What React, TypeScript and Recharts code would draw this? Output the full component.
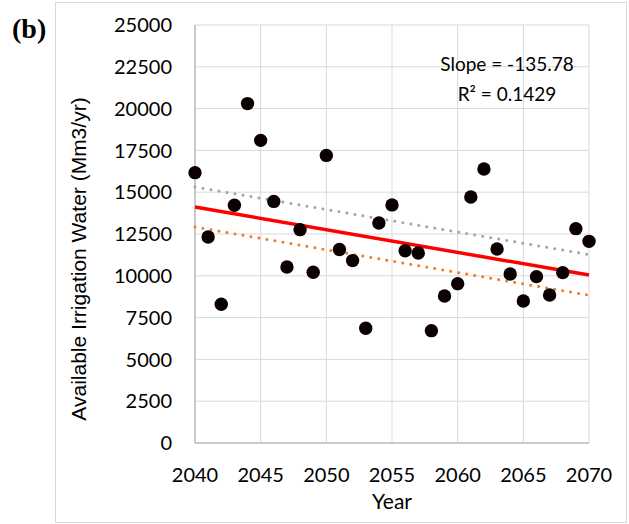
import { ScatterChart, Scatter, XAxis, YAxis, CartesianGrid } from 'recharts';

// Available irrigation water per year (Mm3/yr)
const years = [
  2040, 2041, 2042, 2043, 2044, 2045, 2046, 2047, 2048, 2049,
  2050, 2051, 2052, 2053, 2054, 2055, 2056, 2057, 2058, 2059,
  2060, 2061, 2062, 2063, 2064, 2065, 2066, 2067, 2068, 2069, 2070,
];
const water = [
  16170, 12320, 8300, 14220, 20300, 18100, 14450, 10530, 12760, 10210,
  17200, 11570, 10910, 6860, 13160, 14240, 11500, 11360, 6720, 8790,
  9530, 14710, 16390, 11600, 10110, 8490, 9950, 8850, 10190, 12820, 12060,
];

// trend lines (linear fit and two dotted bounds), end points only
const trendYears = [2040, 2070];
const fitLine = [14115, 10042];
const upperLine = [15310, 11270];
const lowerLine = [12920, 8835];

const yTicks = [0, 2500, 5000, 7500, 10000, 12500, 15000, 17500, 20000, 22500, 25000];
const xTicks = [2040, 2045, 2050, 2055, 2060, 2065, 2070];

const points = years.map((y, i) => ({ x: y, y: water[i] }));
const toLine = (vals: number[]) => trendYears.map((x, i) => ({ x, y: vals[i] }));

const tickFont = { fontFamily: 'Lato', fontSize: 20, fill: '#000' };
const noShape = () => <g />;

export default function App() {
  return (
    <div style={{ position: 'absolute', left: 0, top: 0, width: 629, height: 524, background: '#fff' }}>
      <div
        style={{
          position: 'absolute', left: 55, top: 2, width: 570, height: 519,
          border: '1px solid #d9d9d9',
        }}
      />
      <ScatterChart width={629} height={524} margin={{ top: 25, right: 40, left: 0, bottom: 0 }}>
        <CartesianGrid stroke="#d9d9d9" strokeWidth={1} />
        <XAxis
          type="number"
          dataKey="x"
          domain={[2040, 2070]}
          ticks={xTicks}
          height={81}
          tickSize={0}
          tickMargin={25}
          tickLine={false}
          axisLine={{ stroke: '#bfbfbf', strokeWidth: 1.5 }}
          tick={tickFont}
          interval={0}
        />
        <YAxis
          type="number"
          dataKey="y"
          domain={[0, 25000]}
          ticks={yTicks}
          width={195}
          tickSize={0}
          tickMargin={23}
          tickLine={false}
          axisLine={{ stroke: '#bfbfbf', strokeWidth: 1.5 }}
          tick={tickFont}
          interval={0}
        />
        <Scatter
          data={toLine(upperLine)}
          line={{ stroke: '#a5a5a5', strokeWidth: 3, strokeDasharray: '0.01 8.1', strokeLinecap: 'round' }}
          shape={noShape}
          isAnimationActive={false}
        />
        <Scatter
          data={toLine(lowerLine)}
          line={{ stroke: '#ed7d31', strokeWidth: 3, strokeDasharray: '0.01 8.1', strokeLinecap: 'round' }}
          shape={noShape}
          isAnimationActive={false}
        />
        <Scatter
          data={toLine(fitLine)}
          line={{ stroke: '#ff0000', strokeWidth: 3.5 }}
          shape={noShape}
          isAnimationActive={false}
        />
        <Scatter
          data={points}
          fill="#0a0000"
          shape={(p: any) => <circle cx={p.cx} cy={p.cy} r={6.7} fill="#0a0000" />}
          isAnimationActive={false}
        />
      </ScatterChart>

      <div
        style={{
          position: 'absolute', left: 79, top: 259, transform: 'translate(-50%, -50%) rotate(-90deg)',
          fontFamily: '"Liberation Sans", Arial, sans-serif', fontSize: 21, whiteSpace: 'nowrap', color: '#000',
        }}
      >
        Available Irrigation Water (Mm3/yr)
      </div>
      <div
        style={{
          position: 'absolute', left: 392, top: 500, transform: 'translate(-50%, -50%)',
          fontFamily: 'Lato', fontSize: 21, color: '#000',
        }}
      >
        Year
      </div>
      <div
        style={{
          position: 'absolute', left: 507, top: 79, transform: 'translate(-50%, -50%)',
          fontFamily: 'Lato', fontSize: 19, lineHeight: '30px', textAlign: 'center', whiteSpace: 'nowrap', color: '#000',
        }}
      >
        <div>Slope = -135.78</div>
        <div>R² = 0.1429</div>
      </div>
      <div
        style={{
          position: 'absolute', left: 12, top: 13,
          fontFamily: '"Liberation Serif", "Times New Roman", serif', fontWeight: 'bold', fontSize: 28, color: '#000',
        }}
      >
        (b)
      </div>
    </div>
  );
}
